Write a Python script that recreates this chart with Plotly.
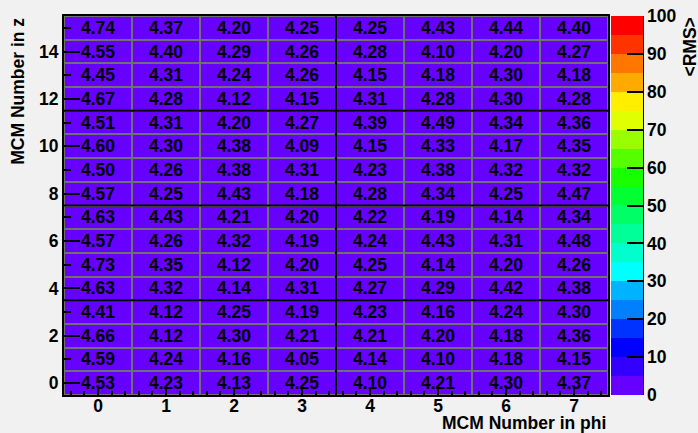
import plotly.graph_objects as go

# MCM phi index (columns) and MCM z index (rows)
phi_idx = [0, 1, 2, 3, 4, 5, 6, 7]
z_idx = list(range(16))

# <RMS> values, row per z (z = 0 first)
rms_z0 = [4.53, 4.23, 4.13, 4.25, 4.10, 4.21, 4.30, 4.37]
rms_z1 = [4.59, 4.24, 4.16, 4.05, 4.14, 4.10, 4.18, 4.15]
rms_z2 = [4.66, 4.12, 4.30, 4.21, 4.21, 4.20, 4.18, 4.36]
rms_z3 = [4.41, 4.12, 4.25, 4.19, 4.23, 4.16, 4.24, 4.30]
rms_z4 = [4.63, 4.32, 4.14, 4.31, 4.27, 4.29, 4.42, 4.38]
rms_z5 = [4.73, 4.35, 4.12, 4.20, 4.25, 4.14, 4.20, 4.26]
rms_z6 = [4.57, 4.26, 4.32, 4.19, 4.24, 4.43, 4.31, 4.48]
rms_z7 = [4.63, 4.43, 4.21, 4.20, 4.22, 4.19, 4.14, 4.34]
rms_z8 = [4.57, 4.25, 4.43, 4.18, 4.28, 4.34, 4.25, 4.47]
rms_z9 = [4.50, 4.26, 4.38, 4.31, 4.23, 4.38, 4.32, 4.32]
rms_z10 = [4.60, 4.30, 4.38, 4.09, 4.15, 4.33, 4.17, 4.35]
rms_z11 = [4.51, 4.31, 4.20, 4.27, 4.39, 4.49, 4.34, 4.36]
rms_z12 = [4.67, 4.28, 4.12, 4.15, 4.31, 4.28, 4.30, 4.28]
rms_z13 = [4.45, 4.31, 4.24, 4.26, 4.15, 4.18, 4.30, 4.18]
rms_z14 = [4.55, 4.40, 4.29, 4.26, 4.28, 4.10, 4.20, 4.27]
rms_z15 = [4.74, 4.37, 4.20, 4.25, 4.25, 4.43, 4.44, 4.40]

rms = [rms_z0, rms_z1, rms_z2, rms_z3, rms_z4, rms_z5, rms_z6, rms_z7,
       rms_z8, rms_z9, rms_z10, rms_z11, rms_z12, rms_z13, rms_z14, rms_z15]

z_min, z_max = 0, 100
cbar_ticks = [0, 10, 20, 30, 40, 50, 60, 70, 80, 90, 100]

# ROOT-like discrete palette, 20 bands of width 5
band_colors = ["#6600ff", "#3300ff", "#0000ff", "#0033ff", "#0080ff",
               "#00b3ff", "#00ffff", "#00ffcc", "#00ff99", "#00ff66",
               "#00ff33", "#1aff00", "#55ff00", "#99ff00", "#e0ff00",
               "#ffee00", "#ffaa00", "#ff7700", "#ff3300", "#ff0000"]
n = len(band_colors)
colorscale = []
for i, c in enumerate(band_colors):
    colorscale.append([i / n, c])
    colorscale.append([(i + 1) / n, c])

FONT = "Liberation Sans"
FS = 17.5
bold_font = dict(family=FONT, size=FS, color="black", weight="bold")

fig = go.Figure(go.Heatmap(
    x=phi_idx, y=z_idx, z=rms,
    zmin=z_min, zmax=z_max,
    colorscale=colorscale,
    xgap=2, ygap=2,
    texttemplate="<b>%{z:.2f}</b>",
    textfont=bold_font,
    hoverinfo="skip",
    colorbar=dict(
        x=1.005, xanchor="left", xpad=0,
        y=0.5, yanchor="middle", ypad=0,
        len=1, lenmode="fraction",
        thickness=32, thicknessmode="pixels",
        outlinewidth=0,
        tickvals=cbar_ticks,
        ticktext=[f"<b>{v}</b>" for v in cbar_ticks],
        ticks="inside", ticklen=16, tickwidth=2, tickcolor="black",
        tickfont=bold_font,
    ),
))

# separator lines
for xv in [3.5]:
    fig.add_shape(type="line", xref="x", yref="y", x0=xv, x1=xv, y0=-0.5, y1=15.5,
                  line=dict(color="black", width=2), layer="above")
for yv in [3.5, 7.5, 11.5]:
    fig.add_shape(type="line", xref="x", yref="y", x0=-0.5, x1=7.5, y0=yv, y1=yv,
                  line=dict(color="black", width=2), layer="above")
# colorbar right axis line
fig.add_shape(type="line", xref="paper", yref="paper", x0=1.0643, x1=1.0643, y0=0, y1=1,
              line=dict(color="black", width=2))

fig.add_annotation(text="<b>MCM Number in phi</b>", xref="paper", yref="paper",
                   x=1, xanchor="right", y=-0.075, yanchor="middle", showarrow=False,
                   font=bold_font)
fig.add_annotation(text="<b>MCM Number in z</b>", xref="paper", yref="paper",
                   x=-0.086, xanchor="center", y=1, yanchor="top", textangle=-90,
                   showarrow=False, font=bold_font)
fig.add_annotation(text="<b>&lt;RMS&gt;</b>", xref="paper", yref="paper",
                   x=1.149, xanchor="center", y=1, yanchor="top", textangle=-90,
                   showarrow=False, font=bold_font)

axis_common = dict(showgrid=False, zeroline=False, showline=True, linecolor="black",
                   linewidth=2, mirror=True, ticks="inside", tickcolor="black",
                   tickwidth=2, tickfont=bold_font)

fig.update_xaxes(range=[-0.5, 7.5], tickmode="array", tickvals=phi_idx,
                 ticktext=[f"<b>{v}</b>" for v in phi_idx], ticklen=8,
                 ticklabelstandoff=-6,
                 minor=dict(ticks="inside", tick0=0, dtick=0.2, ticklen=4,
                            tickcolor="black", tickwidth=1.5),
                 **axis_common)
y_tickvals = z_idx[::2]
fig.update_yaxes(range=[-0.5, 15.5], tickmode="array", tickvals=y_tickvals,
                 ticktext=[f"<b>{v}</b>" for v in y_tickvals], ticklen=16,
                 minor=dict(ticks="inside", tick0=0, dtick=1, ticklen=7,
                            tickcolor="black", tickwidth=2),
                 **axis_common)

fig.update_layout(
    width=698, height=433,
    margin=dict(l=64, r=90, t=16, b=38, autoexpand=False),
    paper_bgcolor="#f1f1f1",
    plot_bgcolor="#707070",
    showlegend=False,
)

fig.write_html("out.html", config={"displayModeBar": False},
               post_script="document.body.style.margin='0';document.body.style.padding='0';")
